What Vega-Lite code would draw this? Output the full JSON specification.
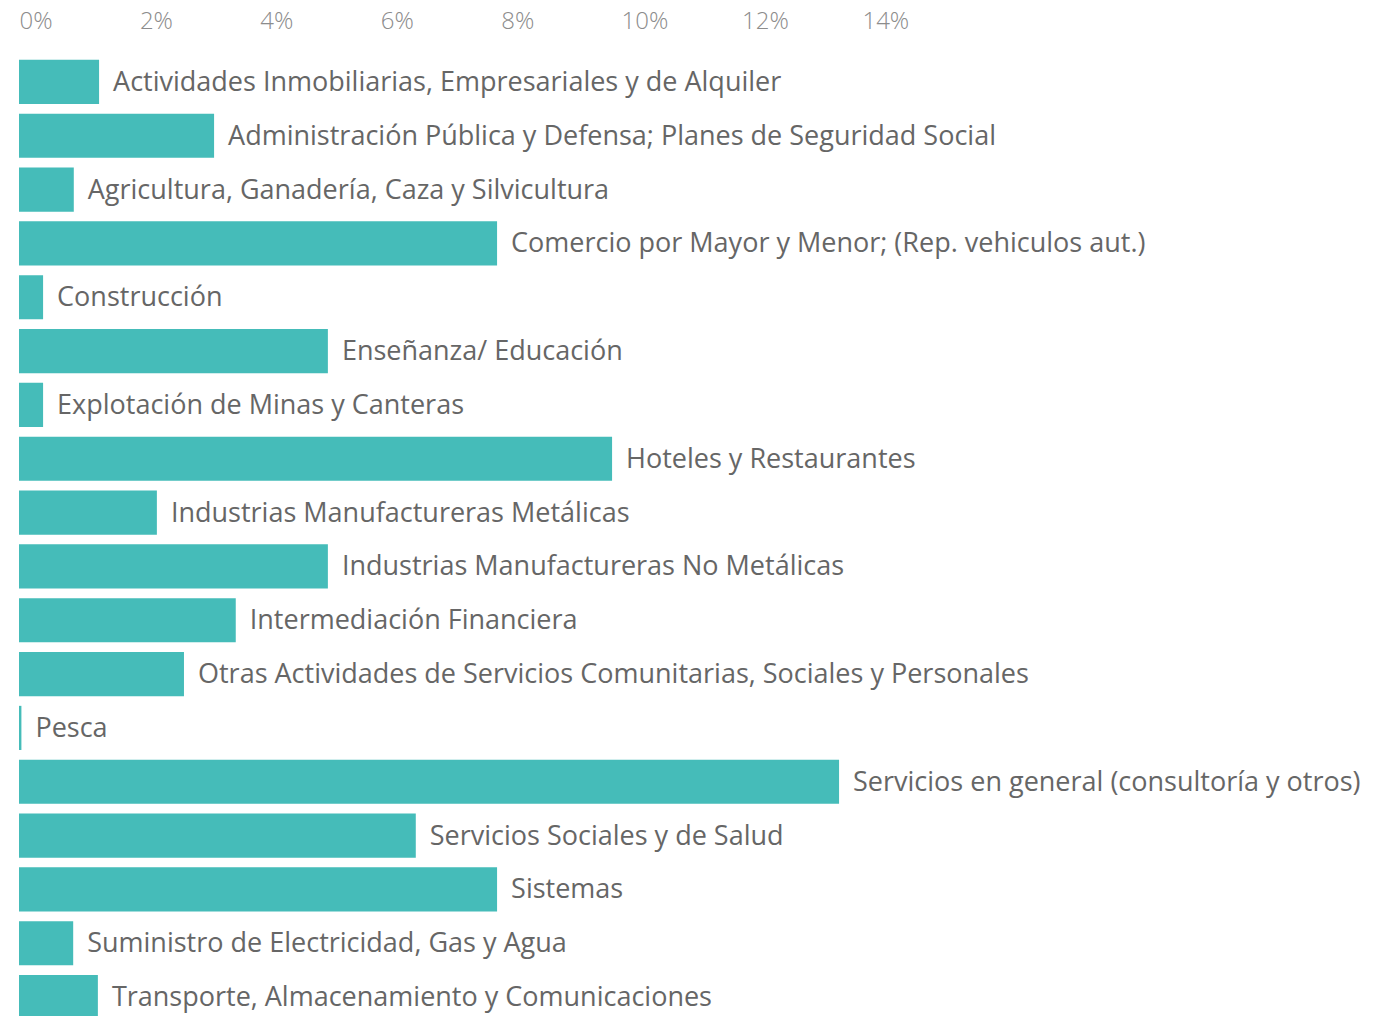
{
  "$schema": "https://vega.github.io/schema/vega-lite/v6.json",
  "autosize": "none",
  "width": 1374,
  "height": 969,
  "padding": {"left": 19, "top": 55, "right": 0, "bottom": 0},
  "background": "white",
  "config": {"view": {"stroke": null}},
  "data": {"values": [
    {"sector": "Actividades Inmobiliarias, Empresariales y de Alquiler", "pct": 0.0133},
    {"sector": "Administración Pública y Defensa; Planes de Seguridad Social", "pct": 0.0324},
    {"sector": "Agricultura, Ganadería, Caza y Silvicultura", "pct": 0.0091},
    {"sector": "Comercio por Mayor y Menor; (Rep. vehiculos aut.)", "pct": 0.0794},
    {"sector": "Construcción", "pct": 0.0040},
    {"sector": "Enseñanza/ Educación", "pct": 0.0513},
    {"sector": "Explotación de Minas y Canteras", "pct": 0.0040},
    {"sector": "Hoteles y Restaurantes", "pct": 0.0985},
    {"sector": "Industrias Manufactureras Metálicas", "pct": 0.0229},
    {"sector": "Industrias Manufactureras No Metálicas", "pct": 0.0513},
    {"sector": "Intermediación Financiera", "pct": 0.0360},
    {"sector": "Otras Actividades de Servicios Comunitarias, Sociales y Personales", "pct": 0.0274},
    {"sector": "Pesca", "pct": 0.0004},
    {"sector": "Servicios en general (consultoría y otros)", "pct": 0.1362},
    {"sector": "Servicios Sociales y de Salud", "pct": 0.0659},
    {"sector": "Sistemas", "pct": 0.0794},
    {"sector": "Suministro de Electricidad, Gas y Agua", "pct": 0.0090},
    {"sector": "Transporte, Almacenamiento y Comunicaciones", "pct": 0.0131}
  ]},
  "encoding": {
    "y": {"field": "sector", "type": "nominal", "sort": null, "axis": null,
          "scale": {"paddingInner": 0.18, "paddingOuter": 0.09}},
    "x": {"field": "pct", "type": "quantitative",
          "scale": {"domain": [0, 0.2282], "nice": false, "zero": true},
          "axis": {"orient": "top", "values": [0, 0.02, 0.04, 0.06, 0.08, 0.1, 0.12, 0.14],
                   "format": ".0%", "domain": false, "ticks": false, "grid": false, "title": null,
                   "labelAlign": "left", "labelFont": "Open Sans", "labelFontSize": 24,
                   "labelColor": "#8c8c8c", "labelPadding": 22, "labelFontWeight": 300}}
  },
  "layer": [
    {"mark": {"type": "bar", "color": "#45BCB9"}},
    {"mark": {"type": "text", "align": "left", "baseline": "middle", "dx": 14, "dy": 1,
              "font": "Open Sans", "fontSize": 27, "color": "#666666"},
     "encoding": {"text": {"field": "sector", "type": "nominal"}}}
  ]
}
